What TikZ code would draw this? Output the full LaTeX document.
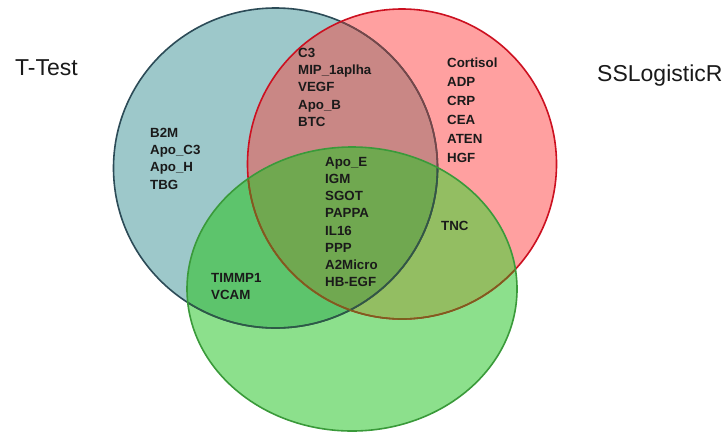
\documentclass[tikz,border=0pt]{standalone}
\usepackage{fontspec}
\setmainfont{Liberation Sans}
\definecolor{bfill}{HTML}{9DC8CA}
\definecolor{rfill}{HTML}{FFA0A0}
\definecolor{gfill}{HTML}{8CE08C}
\definecolor{brfill}{HTML}{C98785}
\definecolor{bgfill}{HTML}{5DC46C}
\definecolor{rgfill}{HTML}{93BE62}
\definecolor{brgfill}{HTML}{70A850}
\definecolor{bline}{HTML}{2C4B57}
\definecolor{rline}{HTML}{CC1020}
\definecolor{gline}{HTML}{3A9A3A}
\definecolor{txt}{HTML}{1A1A1A}
\tikzset{
  lbl/.style={font=\bfseries\fontsize{13.3}{17.2}\selectfont, align=left, inner sep=0pt, anchor=north west, text=txt},
  title/.style={font=\fontsize{23}{25}\selectfont, inner sep=0pt, anchor=west, text=txt},
  ring/.style={line width=1.6pt}
}
\def\blueE{(275.5,168) ellipse [x radius=162, y radius=160]}
\def\redE{(402,164) ellipse [x radius=154.5, y radius=155]}
\def\greenE{(352,289) ellipse [x radius=165, y radius=142]}
\begin{document}
\begin{tikzpicture}[x=1pt,y=-1pt]
\useasboundingbox (0,0) rectangle (727,432);
\fill[white] (0,0) rectangle (727,432);
% base fills
\fill[bfill] \blueE;
\fill[rfill] \redE;
\fill[gfill] \greenE;
% overlaps
\begin{scope}\clip \blueE; \fill[brfill] \redE; \end{scope}
\begin{scope}\clip \blueE; \fill[bgfill] \greenE; \end{scope}
\begin{scope}\clip \redE; \fill[rgfill] \greenE; \end{scope}
\begin{scope}\clip \blueE; \clip \redE; \fill[brgfill] \greenE; \end{scope}
% outlines
\draw[ring, bline] \blueE;
\begin{scope}\clip \redE; \draw[ring, color={rgb,255:red,120;green,70;blue,72}] \blueE; \end{scope}
\draw[ring, rline] \redE;
\begin{scope}\clip \greenE;
  \draw[ring, color={rgb,255:red,45;green,90;blue,70}] \blueE;
  \draw[ring, color={rgb,255:red,125;green,95;blue,30}] \redE;
\end{scope}
\draw[ring, gline] \greenE;
% titles
\node[title] (ttest) at (15,68) {T-Test};
\node[title] (sslr) at (597,76) {SSLogisticR};
% labels
\node[lbl] (blueonly) at (150,128) {B2M\\Apo\_C3\\Apo\_H\\TBG};
\node[lbl] (bluered) at (298,48) {C3\\MIP\_1aplha\\VEGF\\Apo\_B\\BTC};
\node[lbl, font=\bfseries\fontsize{13.3}{18.9}\selectfont] (redonly) at (447,58) {Cortisol\\ADP\\CRP\\CEA\\ATEN\\HGF};
\node[lbl] (all) at (325,157) {Apo\_E\\IGM\\SGOT\\PAPPA\\IL16\\PPP\\A2Micro\\HB-EGF};
\node[lbl] (redgreen) at (441,221) {TNC};
\node[lbl] (bluegreen) at (211,273) {TIMMP1\\VCAM};
\end{tikzpicture}
\end{document}
